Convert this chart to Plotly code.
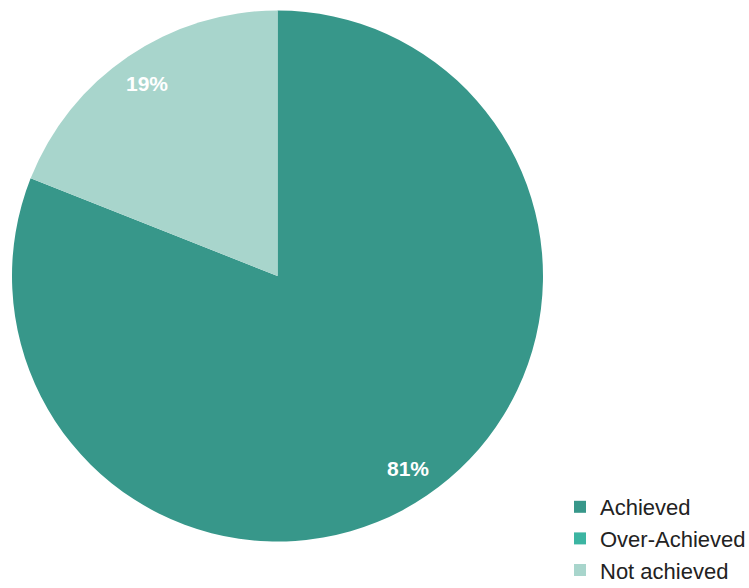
import math
import plotly.graph_objects as go

# Share of targets by outcome
categories = ["Achieved", "Over-Achieved", "Not achieved"]
values = [81, 0, 19]
colors = ["#37978a", "#3cb5a2", "#a8d5cc"]

W, H = 749, 588
# pie placement in pixels
cx_px, cy_px, r_px = 277.5, 276, 265.5
label_frac = 0.875

fig = go.Figure(
    go.Pie(
        labels=categories,
        values=values,
        sort=False,
        direction="clockwise",
        rotation=0,
        marker=dict(colors=colors, line=dict(width=0)),
        textinfo="none",
        hoverinfo="label+percent",
        domain=dict(
            x=[(cx_px - r_px) / W, (cx_px + r_px) / W],
            y=[1 - (cy_px + r_px) / H, 1 - (cy_px - r_px) / H],
        ),
    )
)

# percentage labels placed along each slice's mid angle
total = sum(values)
start = 0.0
annotations = []
for v in values:
    frac = v / total
    if v > 0:
        mid = (start + frac / 2) * 2 * math.pi
        x_px = cx_px + math.sin(mid) * r_px * label_frac
        y_px = cy_px - math.cos(mid) * r_px * label_frac
        annotations.append(
            dict(
                x=x_px / W,
                y=1 - y_px / H,
                xref="paper",
                yref="paper",
                xanchor="center",
                yanchor="middle",
                text=f"{round(frac * 100)}%",
                showarrow=False,
                font=dict(family="Liberation Sans, Arial, sans-serif", size=21, color="white", weight="bold"),
            )
        )
    start += frac

fig.update_layout(
    width=W,
    height=H,
    margin=dict(l=0, r=0, t=0, b=0, autoexpand=False),
    paper_bgcolor="white",
    plot_bgcolor="white",
    annotations=annotations,
    showlegend=True,
    legend=dict(
        xref="container",
        yref="container",
        x=560 / W,
        y=1 - 486 / H,
        xanchor="left",
        yanchor="top",
        font=dict(family="Liberation Sans, Arial, sans-serif", size=22, color="#222222"),
        bgcolor="rgba(0,0,0,0)",
        itemclick=False,
    ),
)

fig.write_html("out.html")
